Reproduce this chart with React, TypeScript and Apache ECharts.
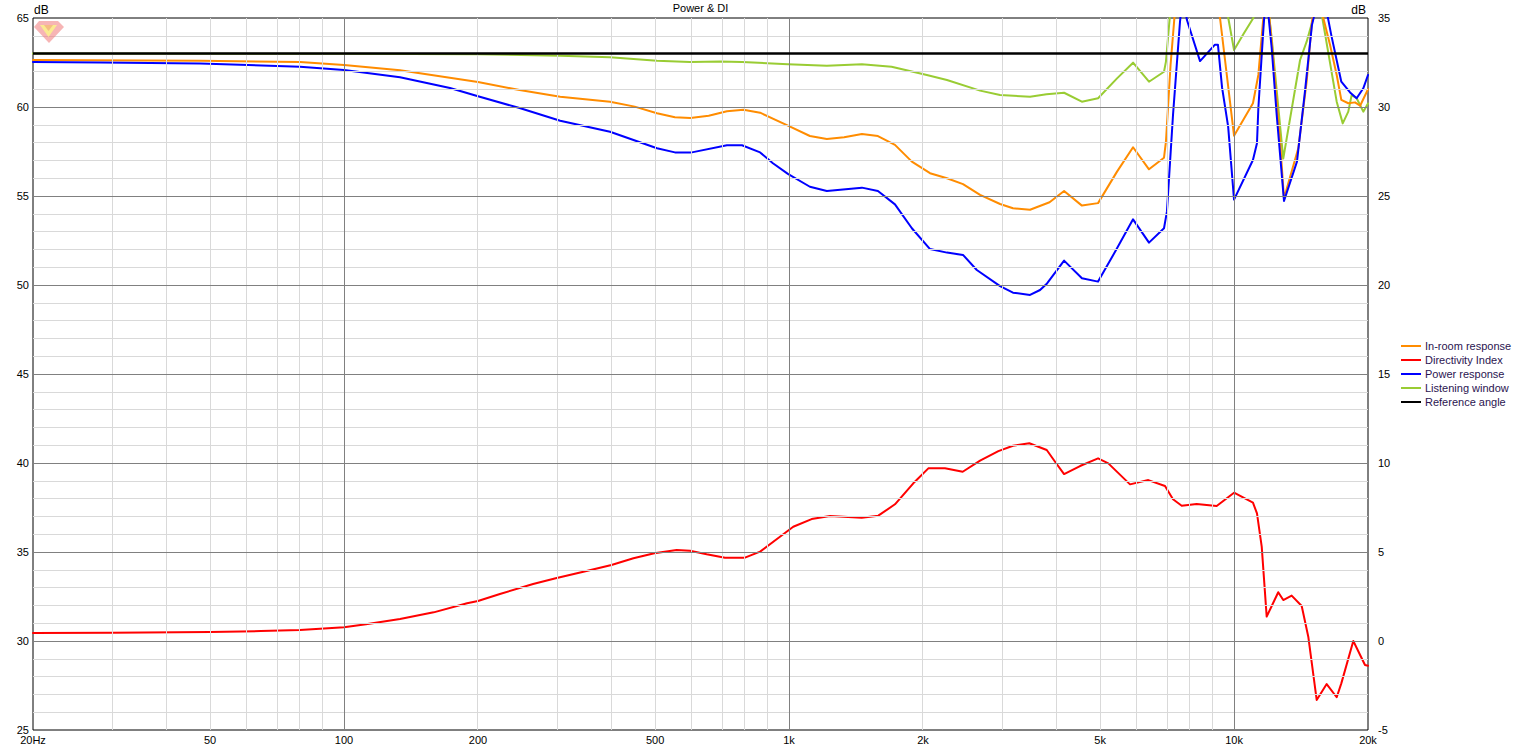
import React, { useEffect, useRef } from "react";
import * as echarts from "echarts";

// ---- Data (frequency in Hz, level in dB) ----
const xTickFreqs = [20, 50, 100, 200, 500, 1000, 2000, 5000, 10000, 20000];
const xTickLabels = ["20Hz", "50", "100", "200", "500", "1k", "2k", "5k", "10k", "20k"];
const minorFreqs = [30, 40, 50, 60, 70, 80, 90, 200, 300, 400, 500, 600, 700, 800, 900,
  2000, 3000, 4000, 5000, 6000, 7000, 8000, 9000];
const majorFreqs = [100, 1000, 10000];

const referenceAngle = [[20, 63.0], [20000, 63.0]];

const listeningWindow = [
  [20, 63.0], [100, 62.99], [200, 62.96], [306, 62.88], [396, 62.79], [505, 62.6], [599, 62.53],
  [700, 62.55], [784, 62.53], [994, 62.4], [1216, 62.32], [1458, 62.4], [1700, 62.26], [2040, 61.8],
  [2264, 61.52], [2687, 60.92], [2980, 60.67], [3480, 60.58], [3790, 60.71], [4150, 60.8],
  [4550, 60.3], [4948, 60.49], [5458, 61.61], [5930, 62.49], [6440, 61.42], [6960, 61.98],
  [7030, 62.55], [7180, 65.2], [7400, 67.5], [8000, 69.5], [8800, 69], [9500, 66.5], [9706, 65],
  [10000, 63.2], [10500, 64.1], [11050, 65], [11440, 66.8], [11850, 66.2], [12152, 63.86],
  [12900, 57.1], [14073, 62.64], [14560, 63.67], [15070, 65], [15400, 66.3], [15740, 65.2],
  [17010, 60.3], [17550, 59.08], [18060, 59.74], [18380, 60.67], [18860, 60.49], [19520, 59.74],
  [20000, 60.2],
];

const inRoomResponse = [
  [20, 62.64], [47.5, 62.6], [79.6, 62.53], [100, 62.36], [133.6, 62.06], [200, 61.4], [248, 60.95],
  [306, 60.58], [396, 60.3], [450, 60.02], [505, 59.65], [554, 59.42], [600, 59.38], [660, 59.51],
  [725, 59.76], [790, 59.85], [861, 59.68], [1000, 58.93], [1114, 58.37], [1216, 58.2], [1330, 58.3],
  [1458, 58.48], [1584, 58.37], [1730, 57.87], [1888, 56.93], [2074, 56.28], [2264, 56.0],
  [2460, 55.67], [2687, 55.06], [2980, 54.55], [3186, 54.31], [3480, 54.23], [3850, 54.65],
  [4150, 55.28], [4552, 54.46], [4948, 54.6], [5458, 56.37], [5930, 57.74], [6440, 56.5],
  [6960, 57.15], [7030, 58.05], [7200, 62.36], [7400, 66], [7900, 68.5], [8400, 69.5],
  [8900, 67.5], [9300, 65], [10000, 58.39], [11028, 60.21], [11340, 61.8], [11616, 64.8],
  [11850, 66.5], [12152, 63.67], [12689, 58.05], [12950, 54.87], [13944, 57.68], [14560, 61.42],
  [14964, 64.8], [15400, 66.4], [15870, 65], [16436, 63.48], [17010, 61.8], [17420, 60.4],
  [18060, 60.21], [18700, 60.26], [19200, 60.07], [20000, 61.0],
];

const powerResponse = [
  [20, 62.53], [28.3, 62.5], [47.5, 62.45], [79.6, 62.26], [100, 62.08], [133.6, 61.67], [173, 61.07],
  [200, 60.6], [248, 59.94], [306, 59.23], [396, 58.61], [505, 57.68], [554, 57.45], [605, 57.45],
  [725, 57.85], [784, 57.85], [861, 57.45], [920, 56.84], [994, 56.24], [1114, 55.52], [1216, 55.28],
  [1458, 55.47], [1584, 55.28], [1730, 54.53], [1888, 53.19], [2074, 52.02], [2264, 51.82],
  [2460, 51.69], [2642, 50.84], [2980, 49.94], [3186, 49.57], [3480, 49.44], [3665, 49.72],
  [3800, 50.09], [4150, 51.37], [4552, 50.38], [4948, 50.19], [5458, 52.06], [5930, 53.69],
  [6440, 52.38], [6960, 53.19], [7066, 54.12], [7292, 59.55], [7561, 64.8], [7678, 66.3],
  [7834, 64.9], [8386, 62.58], [9060, 63.5], [9200, 63.5], [9398, 61.1], [9700, 58.9],
  [10000, 54.8], [11028, 57.02], [11260, 57.96], [11340, 59.93], [11616, 64.04], [11800, 66.5],
  [12152, 63.3], [12470, 59.55], [12950, 54.72], [13848, 56.93], [14432, 60.86], [14964, 64.6],
  [15607, 66.5], [16200, 65.2], [16540, 64.04], [17420, 61.42], [18228, 60.82], [18860, 60.49],
  [19520, 61.05], [20000, 61.8],
];

const directivityIndex = [
  [20, 0.45], [30, 0.46], [50, 0.5], [65, 0.56], [79.6, 0.62], [100, 0.77], [112, 0.94],
  [133.6, 1.24], [159, 1.61], [189, 2.12], [200, 2.25], [224, 2.64], [266, 3.2], [299, 3.52],
  [345, 3.89], [399, 4.27], [447, 4.65], [498, 4.93], [559, 5.11], [599, 5.07], [653, 4.87],
  [718, 4.68], [796, 4.68], [861, 5.02], [954, 5.86], [1022, 6.42], [1124, 6.85], [1236, 7.02],
  [1456, 6.93], [1587, 7.04], [1730, 7.68], [1902, 8.86], [2056, 9.7], [2241, 9.7], [2456, 9.51],
  [2687, 10.13], [2954, 10.67], [3186, 10.97], [3467, 11.11], [3794, 10.73], [3961, 10.07],
  [4150, 9.38], [4507, 9.83], [4948, 10.26], [5218, 9.98], [5838, 8.8], [6417, 9.04], [6996, 8.71],
  [7292, 7.96], [7628, 7.6], [8240, 7.7], [9140, 7.58], [10000, 8.33], [11028, 7.77], [11260, 7.17],
  [11540, 5.3], [11840, 1.37], [12570, 2.74], [12900, 2.3], [13474, 2.55], [14192, 1.97],
  [14684, 0.24], [15336, -3.31], [16150, -2.42], [17010, -3.16], [17420, -2.38], [18536, 0.0],
  [19692, -1.35], [20000, -1.39],
];

const legendItems = [
  { name: "In-room response", color: "#ff8c00" },
  { name: "Directivity Index", color: "#ff0000" },
  { name: "Power response", color: "#0000ff" },
  { name: "Listening window", color: "#99cc33" },
  { name: "Reference angle", color: "#000000" },
];

const FONT = "'Liberation Sans', Arial, sans-serif";

const toXY = (pairs: number[][]) => pairs.map(([f, v]) => [Math.log10(f), v]);

export default function App() {
  const ref = useRef<HTMLDivElement>(null);

  useEffect(() => {
    document.body.style.margin = "0";
    if (!ref.current) return;
    const chart = echarts.init(ref.current, undefined, { renderer: "svg" });

    const minorH: any[] = [];
    for (let v = 26; v < 65; v++) if (v % 5 !== 0) minorH.push({ yAxis: v });
    const majorH: any[] = [];
    for (let v = 30; v < 65; v += 5) majorH.push({ yAxis: v });

    const markBase = {
      silent: true,
      symbol: ["none", "none"],
      label: { show: false },
      emphasis: { disabled: true },
      animation: false,
    };

    const lineSeries = (name: string, data: number[][], color: string, yIdx = 0, width = 2, z = 3) => ({
      type: "line",
      name,
      data: toXY(data),
      yAxisIndex: yIdx,
      showSymbol: false,
      symbol: "none",
      clip: true,
      lineStyle: { color, width, join: "round", cap: "round" },
      itemStyle: { color },
      emphasis: { disabled: true },
      z,
    });

    const graphics: any[] = [
      {
        type: "text", x: 700.5, y: 8,
        style: { text: "Power & DI", font: `11px ${FONT}`, fill: "#000", align: "center", verticalAlign: "middle" },
      },
      {
        type: "text", x: 34, y: 10,
        style: { text: "dB", font: `12px ${FONT}`, fill: "#000", align: "left", verticalAlign: "middle" },
      },
      {
        type: "text", x: 1366, y: 10,
        style: { text: "dB", font: `12px ${FONT}`, fill: "#000", align: "right", verticalAlign: "middle" },
      },
      // logo
      {
        type: "polygon", z: 10,
        shape: { points: [[34, 27], [39, 21], [58, 21], [64, 27], [49, 43]] },
        style: { fill: "rgba(240,120,120,0.55)" },
      },
      {
        type: "polygon", z: 11,
        shape: { points: [[40, 25], [57, 25], [48.5, 37]] },
        style: { fill: "rgba(250,240,140,0.9)" },
      },
      {
        type: "polygon", z: 12,
        shape: { points: [[44, 25], [53, 25], [48.5, 31]] },
        style: { fill: "rgba(240,150,120,0.55)" },
      },
    ];
    legendItems.forEach((it, i) => {
      const y = 346 + i * 14;
      graphics.push({
        type: "line", shape: { x1: 1401, y1: y, x2: 1421, y2: y },
        style: { stroke: it.color, lineWidth: 2 },
      });
      graphics.push({
        type: "text", x: 1425, y: y,
        style: { text: it.name, font: `11px ${FONT}`, fill: "#2a1450", align: "left", verticalAlign: "middle" },
      });
    });

    chart.setOption({
      animation: false,
      backgroundColor: "#ffffff",
      grid: {
        left: 33, right: 152, top: 18, bottom: 18,
        show: true, borderColor: "#000", borderWidth: 1, backgroundColor: "transparent",
      },
      xAxis: {
        type: "value",
        min: Math.log10(20),
        max: Math.log10(20000),
        axisLine: { show: false },
        axisTick: { show: false },
        splitLine: { show: false },
        axisLabel: {
          customValues: xTickFreqs.map((f) => Math.log10(f)),
          formatter: (v: number) => {
            const f = Math.round(Math.pow(10, v));
            const idx = xTickFreqs.indexOf(f);
            return idx >= 0 ? xTickLabels[idx] : "";
          },
          color: "#000",
          fontSize: 11,
          fontFamily: FONT,
          margin: 4,
        },
      },
      yAxis: [
        {
          type: "value", min: 25, max: 65, interval: 5, position: "left",
          axisLine: { show: false }, axisTick: { show: false }, splitLine: { show: false },
          axisLabel: {
            color: "#000", fontSize: 11, fontFamily: FONT, margin: 4,
            showMinLabel: true, showMaxLabel: true, padding: [0, 0, 5, 0],
          },
        },
        {
          type: "value", min: -5, max: 35, interval: 5, position: "right",
          axisLine: { show: false }, axisTick: { show: false }, splitLine: { show: false },
          axisLabel: {
            color: "#000", fontSize: 11, fontFamily: FONT, margin: 10,
            showMinLabel: true, showMaxLabel: true, padding: [0, 0, 4, 0],
          },
        },
      ],
      graphic: graphics,
      series: [
        {
          type: "line", name: "minorGrid", data: [[Math.log10(20), 25]], showSymbol: false, symbol: "none",
          lineStyle: { opacity: 0, width: 0 }, z: 1, silent: true,
          markLine: {
            ...markBase,
            lineStyle: { color: "#d9d9d9", width: 1, type: "solid" },
            data: [...minorFreqs.map((f) => ({ xAxis: Math.log10(f) })), ...minorH],
          },
        },
        {
          type: "line", name: "majorGrid", data: [[Math.log10(20), 25]], showSymbol: false, symbol: "none",
          lineStyle: { opacity: 0, width: 0 }, z: 1, silent: true,
          markLine: {
            ...markBase,
            lineStyle: { color: "#808080", width: 1, type: "solid" },
            data: [...majorFreqs.map((f) => ({ xAxis: Math.log10(f) })), ...majorH],
          },
        },
        lineSeries("Listening window", listeningWindow, "#99cc33"),
        lineSeries("In-room response", inRoomResponse, "#ff8c00"),
        lineSeries("Power response", powerResponse, "#0000ff"),
        lineSeries("Directivity Index", directivityIndex, "#ff0000", 1),
        {
          type: "line", name: "Reference angle", data: toXY(referenceAngle), yAxisIndex: 0,
          showSymbol: false, symbol: "none", lineStyle: { color: "#000", width: 2.5 },
          emphasis: { disabled: true }, z: 5,
        },
      ],
    });

    return () => chart.dispose();
  }, []);

  return <div ref={ref} style={{ width: 1520, height: 748 }} />;
}
